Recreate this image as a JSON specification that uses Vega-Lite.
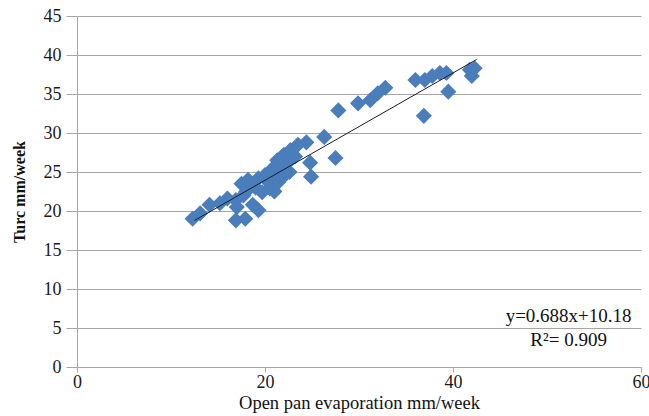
{
  "$schema": "https://vega.github.io/schema/vega-lite/v6.json",
  "autosize": "none",
  "width": 564,
  "height": 351,
  "padding": {"left": 77, "top": 16, "right": 8, "bottom": 49},
  "background": "white",
  "config": {
    "view": {"stroke": null},
    "font": "Liberation Serif",
    "axis": {"labelFont": "Liberation Serif", "titleFont": "Liberation Serif", "labelColor": "#1a1a1a", "titleColor": "#111", "domainColor": "#a6a6a6", "tickColor": "#a6a6a6", "gridColor": "#a6a6a6", "labelOverlap": false, "labelFlush": false}
  },
  "datasets": {
    "pts": [
      {"x": 12.3, "y": 19.0}, {"x": 13.1, "y": 19.7}, {"x": 14.1, "y": 20.8}, {"x": 15.2, "y": 21.0},
      {"x": 16.0, "y": 21.6}, {"x": 16.9, "y": 18.8}, {"x": 17.9, "y": 19.0}, {"x": 16.9, "y": 21.4},
      {"x": 17.7, "y": 22.0}, {"x": 18.4, "y": 23.3}, {"x": 19.3, "y": 24.2}, {"x": 20.0, "y": 24.6},
      {"x": 20.7, "y": 25.3}, {"x": 21.3, "y": 26.5}, {"x": 22.0, "y": 27.2}, {"x": 22.7, "y": 27.8},
      {"x": 23.5, "y": 28.5}, {"x": 24.4, "y": 28.8}, {"x": 19.7, "y": 22.4}, {"x": 20.5, "y": 22.9},
      {"x": 21.4, "y": 23.7}, {"x": 22.1, "y": 24.6}, {"x": 18.7, "y": 20.8}, {"x": 19.3, "y": 20.1},
      {"x": 17.5, "y": 23.5}, {"x": 18.2, "y": 24.0}, {"x": 19.0, "y": 23.0}, {"x": 20.3, "y": 23.8},
      {"x": 21.0, "y": 24.8}, {"x": 21.8, "y": 25.7}, {"x": 22.5, "y": 26.3}, {"x": 23.2, "y": 27.0},
      {"x": 17.0, "y": 20.5}, {"x": 18.0, "y": 22.5}, {"x": 21.0, "y": 22.5}, {"x": 22.6, "y": 25.0},
      {"x": 24.8, "y": 26.2}, {"x": 24.9, "y": 24.4}, {"x": 26.3, "y": 29.5}, {"x": 27.8, "y": 32.9},
      {"x": 27.5, "y": 26.8}, {"x": 29.9, "y": 33.8}, {"x": 31.2, "y": 34.2}, {"x": 32.0, "y": 35.1},
      {"x": 32.8, "y": 35.8}, {"x": 36.0, "y": 36.8}, {"x": 37.0, "y": 36.8}, {"x": 37.8, "y": 37.3},
      {"x": 38.6, "y": 37.7}, {"x": 39.3, "y": 37.7}, {"x": 36.9, "y": 32.2}, {"x": 39.5, "y": 35.3},
      {"x": 41.8, "y": 38.1}, {"x": 42.0, "y": 37.3}, {"x": 42.3, "y": 38.3}
    ],
    "trend": [{"x": 12.5, "y": 18.78}, {"x": 42.5, "y": 39.42}],
    "notes": [
      {"x": 52.3, "y": 6.5, "t": "y=0.688x+10.18"},
      {"x": 52.3, "y": 3.4, "t": "R²= 0.909"}
    ]
  },
  "encoding": {
    "x": {"field": "x", "type": "quantitative", "scale": {"domain": [0, 60], "nice": false},
      "axis": {"values": [0, 20, 40, 60], "grid": false, "tickSize": 5, "labelFontSize": 18, "labelPadding": 1, "title": "Open pan evaporation mm/week", "titleFontSize": 18.5, "titleFontWeight": "normal", "titlePadding": 2}},
    "y": {"field": "y", "type": "quantitative", "scale": {"domain": [0, 45], "nice": false},
      "axis": {"values": [0, 5, 10, 15, 20, 25, 30, 35, 40, 45], "grid": true, "tickSize": 11, "labelFontSize": 18, "labelPadding": 5, "title": "Turc mm/week", "titleFontSize": 16, "titleFontWeight": "bold", "titlePadding": 16}}
  },
  "layer": [
    {
      "data": {"name": "pts"},
      "mark": {"type": "point", "shape": "diamond", "filled": true, "color": "#4a7ebb", "opacity": 1, "size": 260}
    },
    {
      "data": {"name": "trend"},
      "mark": {"type": "line", "color": "#1a1a2e", "strokeWidth": 1}
    },
    {
      "data": {"name": "notes"},
      "mark": {"type": "text", "fontSize": 19, "color": "#111", "align": "center", "baseline": "middle"},
      "encoding": {
        "text": {"field": "t"}
      }
    }
  ]
}
